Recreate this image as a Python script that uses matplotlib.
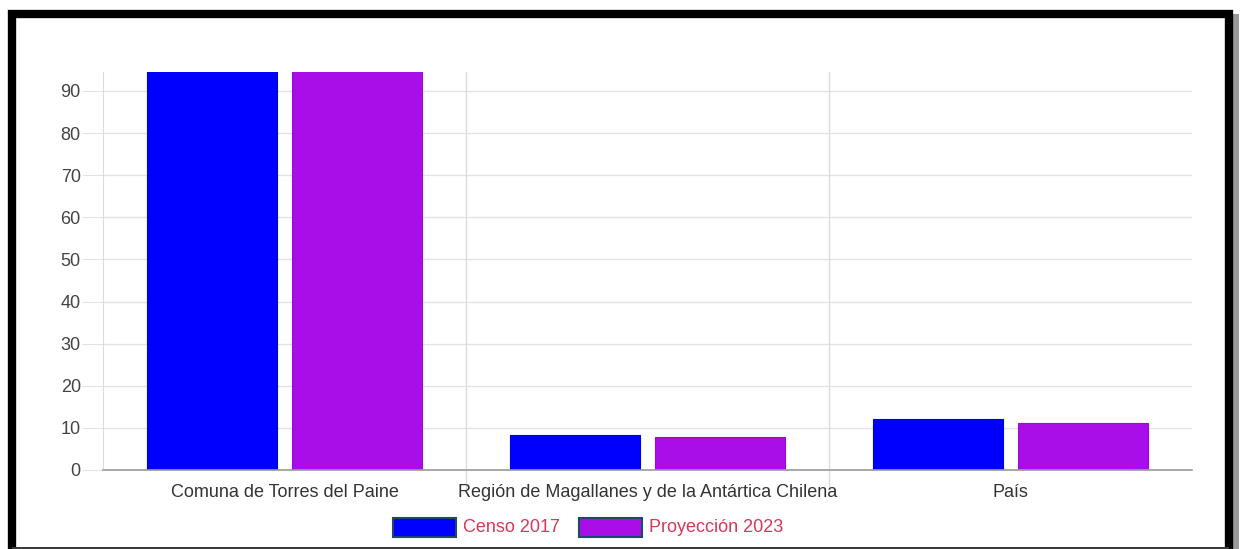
import numpy as np
import matplotlib.pyplot as plt
from matplotlib.patches import Rectangle

# Porcentaje de población rural por territorio
categorias = ["Comuna de Torres del Paine",
              "Región de Magallanes y de la Antártica Chilena",
              "País"]
censo_2017 = [100.0, 8.2, 12.2]
proyeccion_2023 = [100.0, 7.9, 11.2]
series = ["Censo 2017", "Proyección 2023"]
colores = ["#0000ff", "#aa0ee8"]
yticks = list(range(0, 100, 10))

plt.rcParams["font.family"] = ["Liberation Sans", "DejaVu Sans"]

W, H = 1242, 549
fig = plt.figure(figsize=(W / 100, H / 100), dpi=100)
fig.patch.set_facecolor("white")

# marco negro con sombra
fig.patches.append(Rectangle((1233 / W, 0), 6 / W, (H - 14) / H, transform=fig.transFigure,
                             facecolor="#9a9a9a", edgecolor="none", zorder=0))
fig.patches.append(Rectangle((12 / W, -0.02), 1217 / W, (H - 14) / H + 0.02,
                             transform=fig.transFigure, facecolor="white",
                             edgecolor="black", linewidth=6, zorder=1))
fig.patches.append(Rectangle((12 / W, 0), 1217 / W, 2 / H,
                             transform=fig.transFigure, facecolor="#3a3a3a",
                             edgecolor="none", zorder=1))

x0, x1, ytop, ybot = 103, 1192, 72, 470
ax = fig.add_axes([x0 / W, (H - ybot) / H, (x1 - x0) / W, (ybot - ytop) / H])
ax.set_zorder(2)
ax.set_facecolor("none")

x = np.arange(len(categorias))
ancho = 130 / 363
sep = 15 / 363
ax.bar(x - (ancho + sep) / 2, censo_2017, ancho, color=colores[0],
       edgecolor="#0000dd", linewidth=0.8, zorder=3)
ax.bar(x + (ancho + sep) / 2, proyeccion_2023, ancho, color=colores[1],
       edgecolor="#9a0cd0", linewidth=0.8, zorder=3)

ax.set_xlim(-0.5, len(categorias) - 0.5)
ax.set_ylim(0, 94.5)
ax.set_yticks(yticks)
ax.set_xticks(x)
ax.set_xticklabels(categorias)

for y in yticks[1:]:
    ax.axhline(y, color="#e3e3e3", linewidth=1, zorder=1)
for b in [0.5, 1.5]:
    ax.axvline(b, ymin=-0.045, ymax=1, color="#dcdcdc", linewidth=1,
               clip_on=False, zorder=1)

for s in ["top", "right"]:
    ax.spines[s].set_visible(False)
ax.spines["left"].set_color("#dcdcdc")
ax.spines["bottom"].set_color("#9a9a9a")
ax.spines["bottom"].set_linewidth(1.2)
ax.spines["bottom"].set_zorder(4)

ax.tick_params(axis="y", length=15, color="#e3e3e3", labelcolor="#444444",
               labelsize=13, pad=1)
ax.tick_params(axis="x", length=0, labelcolor="#333333", labelsize=13, pad=10)

# leyenda
for i, (nombre, col) in enumerate(zip(series, colores)):
    px = [393, 579][i]
    fig.patches.append(Rectangle((px / W, (H - 537) / H), 63 / W, 19 / H,
                                 transform=fig.transFigure, facecolor=col,
                                 edgecolor="#1d4a6a", linewidth=1.5, zorder=3))
    fig.text((px + 70) / W, (H - 527) / H, nombre, color="#d8385a",
             fontsize=13, va="center", ha="left", zorder=3)

fig.savefig("out.png", dpi=100)
